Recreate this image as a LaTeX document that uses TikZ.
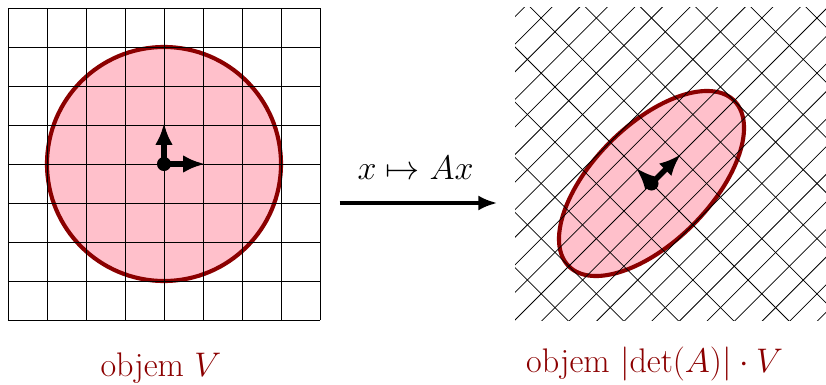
\RequirePackage{fix-cm}
\documentclass[tikz,border=0pt]{standalone}
\usepackage{amsmath}
\usepackage{fontspec}
\usetikzlibrary{calc, arrows.meta}
\definecolor{objemred}{RGB}{139,0,0}
\definecolor{objempink}{RGB}{255,192,203}

\begin{document}
\begin{tikzpicture}[
  gridline/.style={black, line width=0.55pt},
  body/.style={fill=objempink, draw=objemred, line width=3pt},
  basis/.style={line width=4pt, -{Latex[length=16pt, width=13pt]}},
  mapping/.style={line width=3.5pt, -{Latex[length=14pt, width=11pt]}},
  objemtext/.style={text=objemred, font=\fontsize{24.88}{30}\selectfont, anchor=base},
]
  \useasboundingbox (-4.205,-5.641) rectangle (16.974,4.205);

  \coordinate (O1) at (0,0);
  \coordinate (E1) at (1.05,0);
  \coordinate (E2) at (0,1.05);
  \coordinate (O2) at (12.5,-0.5);
  \coordinate (F1) at ($(O2)+(0.75,0.75)$);
  \coordinate (F2) at ($(O2)+(-0.4,0.4)$);
  \coordinate (S) at (4.5,-1);
  \coordinate (T) at (8.55,-1);

  % vlevo: kruh a mrizka
  \draw[body] (O1) circle (3);
  \foreach \k in {-4,...,4} {
    \draw[gridline] (\k,-4) -- (\k,4);
    \draw[gridline] (-4,\k) -- (4,\k);
  }
  \draw[basis] (O1) -- (E1);
  \draw[basis] (O1) -- (E2);
  \fill (O1) circle (0.18);

  % vpravo: obraz pri zobrazeni A
  \begin{scope}
    \clip (9,-4) rectangle (17,4);
    \begin{scope}[shift={(O2)}, cm={0.7071,0.7071,-0.3536,0.3536,(0,0)}]
      \draw[body] (0,0) circle (3);
      \foreach \k in {-13,...,13} {
        \draw[gridline] (\k,-13) -- (\k,13);
        \draw[gridline] (-13,\k) -- (13,\k);
      }
    \end{scope}
  \end{scope}
  \draw[basis] (O2) -- (F1);
  \draw[basis] (O2) -- (F2);
  \fill (O2) circle (0.18);

  % sipka zobrazeni
  \draw[mapping] (S) -- (T);
  \node[font=\fontsize{24.88}{30}\selectfont, anchor=base] (map) at (6.45,-0.41) {$x \mapsto Ax$};

  \node[objemtext] (volV) at (-0.08,-5.46) {objem $V$};
  \node[objemtext] (volAV) at (12.58,-5.35) {objem $\lvert\det(A)\rvert \cdot V$};
\end{tikzpicture}
\end{document}
